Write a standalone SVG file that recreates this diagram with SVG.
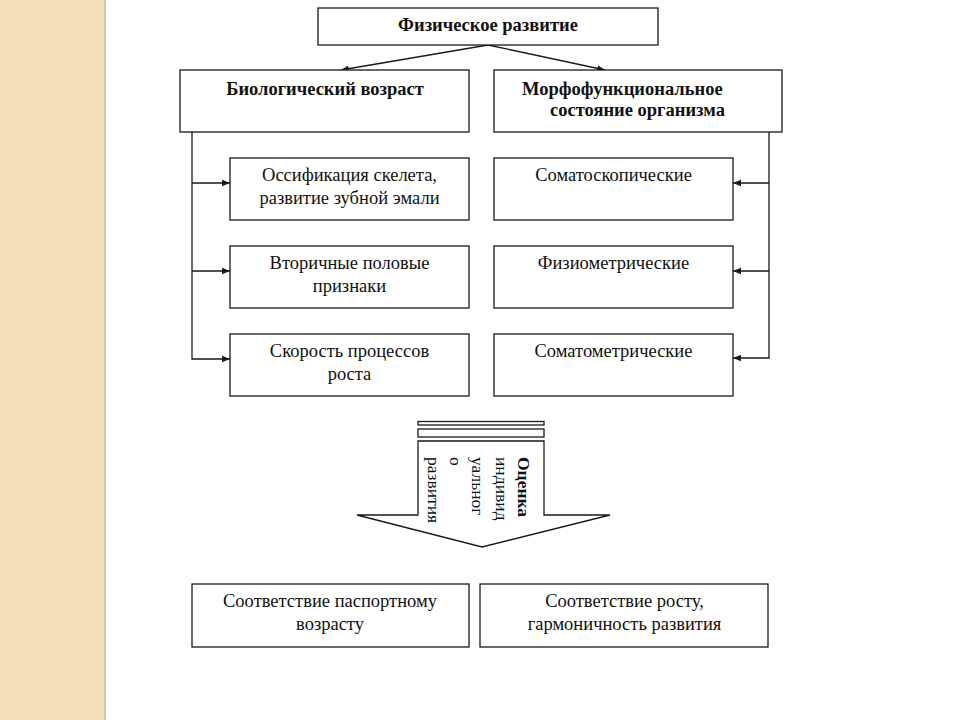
<svg xmlns="http://www.w3.org/2000/svg" width="960" height="720" viewBox="0 0 960 720">
<style>
.box{fill:#fff;stroke:#1a1a1a;stroke-width:1.3}
.t{font-family:"Liberation Serif","Times New Roman",serif;font-size:18.5px;fill:#111;text-anchor:middle}
.b{font-weight:bold;font-size:18.5px}
.s{text-anchor:start}
.c{stroke:#1a1a1a;stroke-width:1.3;fill:none}
.v{font-family:"Liberation Serif","Times New Roman",serif;font-size:17.5px;fill:#111}
</style>
<defs>
<marker id="ah" viewBox="0 0 10 10" refX="10" refY="5" markerWidth="8" markerHeight="8" markerUnits="userSpaceOnUse" orient="auto">
<path d="M0,1 L10,5 L0,9 z" fill="#1a1a1a"/>
</marker>
<pattern id="tex" width="4" height="4" patternUnits="userSpaceOnUse">
<rect width="4" height="4" fill="#F5E4BF"/>
<rect width="2" height="2" fill="#F1DEB5"/>
<rect x="2" y="2" width="2" height="2" fill="#F1DEB5"/>
</pattern>
</defs>
<rect width="960" height="720" fill="#fff"/>
<g id="strip">
<rect x="0" y="0" width="104" height="720" fill="url(#tex)"/>
<line x1="105" y1="0" x2="105" y2="720" stroke="#CFC6AE" stroke-width="2"/>
</g>
<g id="connectors">
<line class="c" x1="488" y1="45" x2="341" y2="70" marker-end="url(#ah)"/>
<line class="c" x1="488" y1="45" x2="605" y2="70" marker-end="url(#ah)"/>
<polyline class="c" points="192,132 192,359 230,359" marker-end="url(#ah)"/>
<line class="c" x1="192" y1="183" x2="230" y2="183" marker-end="url(#ah)"/>
<line class="c" x1="192" y1="271" x2="230" y2="271" marker-end="url(#ah)"/>
<polyline class="c" points="769,132 769,358 733,358" marker-end="url(#ah)"/>
<line class="c" x1="769" y1="183" x2="733" y2="183" marker-end="url(#ah)"/>
<line class="c" x1="769" y1="271" x2="733" y2="271" marker-end="url(#ah)"/>
</g>
<g id="n-phys">
<rect class="box" x="318" y="8" width="340" height="37"/>
<text class="t b" x="488" y="31">Физическое развитие</text>
</g>
<g id="n-bio">
<rect class="box" x="180" y="70" width="289" height="62"/>
<text class="t b" x="325" y="95">Биологический возраст</text>
</g>
<g id="n-morph">
<rect class="box" x="494" y="70" width="288" height="62"/>
<text class="t b s" x="522" y="95">Морфофункциональное</text>
<text class="t b s" x="550" y="116">состояние организма</text>
</g>
<g id="n-oss">
<rect class="box" x="230" y="158" width="239" height="62"/>
<text class="t" x="349.5" y="181">Оссификация скелета,</text>
<text class="t" x="349.5" y="204">развитие зубной эмали</text>
</g>
<g id="n-sec">
<rect class="box" x="230" y="246" width="239" height="62"/>
<text class="t" x="349.5" y="269">Вторичные половые</text>
<text class="t" x="349.5" y="292">признаки</text>
</g>
<g id="n-speed">
<rect class="box" x="230" y="334" width="239" height="62"/>
<text class="t" x="349.5" y="357">Скорость процессов</text>
<text class="t" x="349.5" y="380">роста</text>
</g>
<g id="n-somatoscop">
<rect class="box" x="494" y="158" width="239" height="62"/>
<text class="t" x="613.5" y="181">Соматоскопические</text>
</g>
<g id="n-physio">
<rect class="box" x="494" y="246" width="239" height="62"/>
<text class="t" x="613.5" y="269">Физиометрические</text>
</g>
<g id="n-somatomet">
<rect class="box" x="494" y="334" width="239" height="62"/>
<text class="t" x="613.5" y="357">Соматометрические</text>
</g>
<g id="n-arrow">
<rect class="box" x="418" y="421.5" width="126" height="3.5"/>
<rect class="box" x="418" y="429" width="126" height="8"/>
<polygon class="box" points="418,441 544,441 544,515 610,515 482,547 357,515 418,515"/>
<text class="v" transform="translate(518,457) rotate(90)" font-weight="bold">Оценка</text>
<text class="v" transform="translate(496,457) rotate(90)">индивид</text>
<text class="v" transform="translate(472,457) rotate(90)">уальног</text>
<text class="v" transform="translate(450,457) rotate(90)">о</text>
<text class="v" transform="translate(428,457) rotate(90)">развития</text>
</g>
<g id="n-passport">
<rect class="box" x="192" y="584" width="277" height="63"/>
<text class="t" x="330" y="607">Соответствие паспортному</text>
<text class="t" x="330" y="630">возрасту</text>
</g>
<g id="n-growth">
<rect class="box" x="480" y="584" width="288" height="63"/>
<text class="t" x="624.5" y="607">Соответствие росту,</text>
<text class="t" x="624.5" y="630">гармоничность развития</text>
</g>
</svg>
